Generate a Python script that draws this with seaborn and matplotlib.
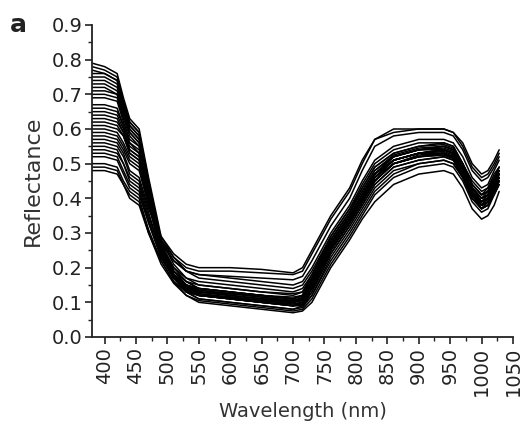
import numpy as np
import pandas as pd
import matplotlib
matplotlib.use("Agg")
import matplotlib.pyplot as plt
from matplotlib.ticker import MultipleLocator
import seaborn as sns

wavelength = [380, 400, 420, 430, 440, 455, 470, 490, 510, 530, 550, 600, 650, 700,
              715, 730, 760, 790, 810, 830, 860, 900, 940, 955, 970, 985, 1000, 1010, 1020, 1028]

# Reflectance spectra (one list per sample)
s01 = [.79, .78, .76, .69, .63, .60, .46, .29, .23, .19, .17, .16, .15, .14, .15, .19, .29, .37, .43, .49, .53, .55, .56, .55, .50, .44, .41, .43, .47, .49]
s02 = [.77, .76, .74, .67, .62, .59, .45, .28, .21, .17, .15, .14, .13, .12, .13, .17, .28, .36, .42, .48, .52, .54, .55, .54, .49, .43, .40, .42, .46, .48]
s03 = [.75, .75, .73, .66, .61, .58, .44, .27, .20, .16, .14, .13, .12, .11, .12, .16, .27, .35, .41, .47, .51, .53, .54, .53, .48, .42, .39, .41, .44, .47]
s04 = [.73, .73, .71, .65, .60, .57, .44, .28, .22, .19, .18, .17, .16, .15, .16, .20, .30, .38, .45, .51, .55, .57, .57, .56, .52, .46, .43, .44, .48, .51]
s05 = [.71, .71, .70, .64, .59, .56, .43, .26, .19, .16, .14, .13, .12, .11, .12, .17, .27, .35, .40, .46, .50, .52, .53, .52, .48, .42, .39, .40, .43, .46]
s06 = [.69, .69, .68, .62, .57, .55, .42, .25, .18, .14, .12, .11, .10, .09, .10, .14, .25, .33, .39, .45, .50, .52, .53, .52, .47, .41, .37, .39, .43, .45]
s07 = [.67, .67, .66, .61, .56, .54, .42, .26, .20, .17, .16, .15, .14, .13, .14, .18, .29, .37, .44, .50, .54, .56, .56, .55, .50, .45, .42, .43, .46, .49]
s08 = [.65, .65, .64, .60, .55, .53, .41, .24, .17, .13, .11, .10, .09, .08, .09, .13, .24, .32, .38, .44, .49, .51, .52, .51, .46, .40, .37, .38, .41, .44]
s09 = [.63, .63, .62, .59, .54, .52, .40, .25, .18, .15, .14, .13, .12, .11, .12, .16, .27, .35, .41, .47, .52, .54, .54, .53, .49, .43, .40, .41, .45, .47]
s10 = [.61, .61, .60, .58, .53, .51, .39, .24, .17, .14, .12, .115, .105, .10, .105, .15, .26, .34, .40, .46, .51, .53, .53, .52, .48, .42, .38, .40, .44, .46]
s11 = [.60, .60, .59, .56, .52, .50, .39, .27, .22, .19, .18, .175, .17, .165, .175, .22, .32, .40, .48, .55, .58, .59, .59, .58, .54, .48, .45, .46, .49, .52]
s12 = [.58, .58, .57, .54, .50, .48, .38, .28, .23, .20, .19, .19, .185, .18, .19, .24, .34, .42, .50, .57, .59, .60, .60, .59, .55, .49, .46, .47, .50, .53]
s13 = [.57, .57, .56, .53, .48, .46, .37, .29, .24, .21, .20, .20, .195, .185, .20, .25, .35, .43, .51, .57, .60, .60, .60, .59, .56, .50, .47, .48, .51, .54]
s14 = [.56, .56, .55, .52, .47, .45, .36, .24, .18, .15, .13, .12, .11, .10, .11, .15, .26, .34, .40, .46, .51, .53, .54, .53, .49, .43, .40, .41, .44, .47]
s15 = [.55, .55, .54, .50, .45, .43, .34, .23, .17, .13, .11, .10, .09, .08, .085, .12, .23, .31, .37, .43, .48, .50, .51, .50, .46, .40, .37, .38, .42, .45]
s16 = [.53, .53, .52, .48, .44, .42, .33, .23, .17, .13, .12, .11, .10, .09, .095, .13, .24, .32, .38, .44, .49, .51, .52, .51, .47, .41, .38, .39, .43, .46]
s17 = [.52, .52, .51, .47, .43, .41, .33, .23, .17, .14, .13, .12, .11, .105, .11, .15, .26, .34, .41, .47, .51, .53, .53, .52, .48, .42, .39, .40, .44, .47]
s18 = [.50, .50, .49, .45, .42, .40, .31, .22, .16, .12, .105, .095, .085, .075, .08, .11, .21, .29, .35, .41, .46, .49, .50, .49, .45, .39, .36, .37, .41, .44]
s19 = [.48, .48, .47, .44, .41, .39, .30, .21, .155, .12, .10, .09, .08, .07, .075, .10, .20, .28, .34, .39, .44, .47, .48, .47, .43, .37, .34, .35, .38, .42]
s20 = [.49, .49, .48, .44, .40, .38, .30, .22, .16, .13, .12, .11, .10, .09, .09, .12, .22, .30, .36, .42, .47, .50, .51, .50, .46, .40, .37, .38, .42, .45]
s21 = [.78, .77, .75, .68, .62, .59, .45, .27, .19, .15, .13, .125, .115, .105, .11, .16, .27, .35, .41, .47, .52, .54, .55, .54, .49, .43, .39, .41, .45, .48]
s22 = [.76, .76, .74, .67, .61, .58, .44, .26, .19, .15, .135, .125, .115, .105, .115, .16, .26, .34, .40, .46, .51, .53, .54, .53, .48, .42, .38, .40, .44, .46]
s23 = [.74, .74, .72, .66, .60, .57, .43, .26, .18, .145, .13, .12, .11, .10, .11, .15, .26, .34, .40, .46, .51, .53, .535, .525, .48, .42, .38, .40, .43, .46]
s24 = [.72, .72, .70, .64, .59, .56, .43, .25, .18, .15, .135, .125, .12, .11, .12, .16, .27, .35, .41, .47, .52, .54, .545, .535, .49, .43, .40, .41, .45, .48]
s25 = [.70, .70, .69, .63, .58, .55, .42, .25, .18, .145, .125, .115, .105, .095, .10, .14, .25, .33, .39, .45, .50, .52, .525, .515, .47, .41, .37, .39, .42, .45]
s26 = [.66, .66, .65, .61, .56, .53, .41, .25, .18, .14, .12, .11, .10, .095, .10, .14, .25, .33, .39, .45, .50, .525, .53, .52, .47, .41, .38, .39, .43, .46]
s27 = [.64, .64, .63, .59, .54, .52, .40, .24, .175, .14, .125, .115, .105, .10, .105, .15, .26, .34, .40, .46, .51, .53, .54, .53, .48, .42, .39, .40, .44, .47]
s28 = [.62, .62, .61, .58, .53, .51, .39, .24, .17, .135, .12, .11, .10, .09, .095, .14, .25, .33, .39, .45, .50, .52, .525, .515, .47, .41, .38, .39, .43, .45]
s29 = [.59, .59, .58, .55, .51, .49, .38, .25, .19, .16, .15, .14, .13, .125, .13, .18, .28, .36, .43, .49, .53, .55, .555, .545, .50, .44, .41, .42, .46, .49]
s30 = [.54, .54, .53, .50, .46, .44, .35, .24, .18, .15, .14, .13, .12, .115, .12, .17, .28, .36, .42, .48, .525, .545, .55, .54, .50, .44, .41, .42, .45, .48]

spectra = [s01, s02, s03, s04, s05, s06, s07, s08, s09, s10,
           s11, s12, s13, s14, s15, s16, s17, s18, s19, s20,
           s21, s22, s23, s24, s25, s26, s27, s28, s29, s30]

x_ticks = [400, 450, 500, 550, 600, 650, 700, 750, 800, 850, 900, 950, 1000, 1050]
y_ticks = [0.0, 0.1, 0.2, 0.3, 0.4, 0.5, 0.6, 0.7, 0.8, 0.9]

rows = []
for i, s in enumerate(spectra):
    for w, r in zip(wavelength, s):
        rows.append({"sample": i, "Wavelength": w, "Reflectance": r})
df = pd.DataFrame(rows)

sns.set_style("ticks")
plt.rcParams["font.family"] = ["DejaVu Sans"]

fig = plt.figure(figsize=(5.24, 4.32), dpi=100)
ax = fig.add_axes([92 / 524, 1 - 337 / 432, (513 - 92) / 524, (337 - 25) / 432])

sns.lineplot(data=df, x="Wavelength", y="Reflectance", units="sample",
             estimator=None, color="black", linewidth=1.1, ax=ax, legend=False)

ax.set_xlim(380, 1050)
ax.set_ylim(0.0, 0.9)
ax.set_xticks(x_ticks)
ax.set_xticklabels([str(t) for t in x_ticks], rotation=90, fontsize=14, color="#222222")
ax.set_yticks(y_ticks)
ax.set_yticklabels([f"{t:.1f}" for t in y_ticks], fontsize=14, color="#222222")
ax.xaxis.set_minor_locator(MultipleLocator(25))
ax.yaxis.set_minor_locator(MultipleLocator(0.05))
ax.tick_params(which="major", direction="out", length=5, width=1.2, color="#222222", pad=2)
ax.tick_params(which="minor", direction="out", length=3, width=1.0, color="#222222")

for side in ["top", "right"]:
    ax.spines[side].set_visible(False)
for side in ["left", "bottom"]:
    ax.spines[side].set_linewidth(1.3)
    ax.spines[side].set_color("#222222")

ax.set_xlabel("Wavelength (nm)", fontsize=14, color="#333333", labelpad=4)
ax.set_ylabel("Reflectance", fontsize=16, color="#333333", labelpad=6)

fig.text(0.018, 0.925, "a", fontsize=18, fontweight="bold", color="#222222")

fig.savefig("out.png", dpi=100, facecolor="white")
